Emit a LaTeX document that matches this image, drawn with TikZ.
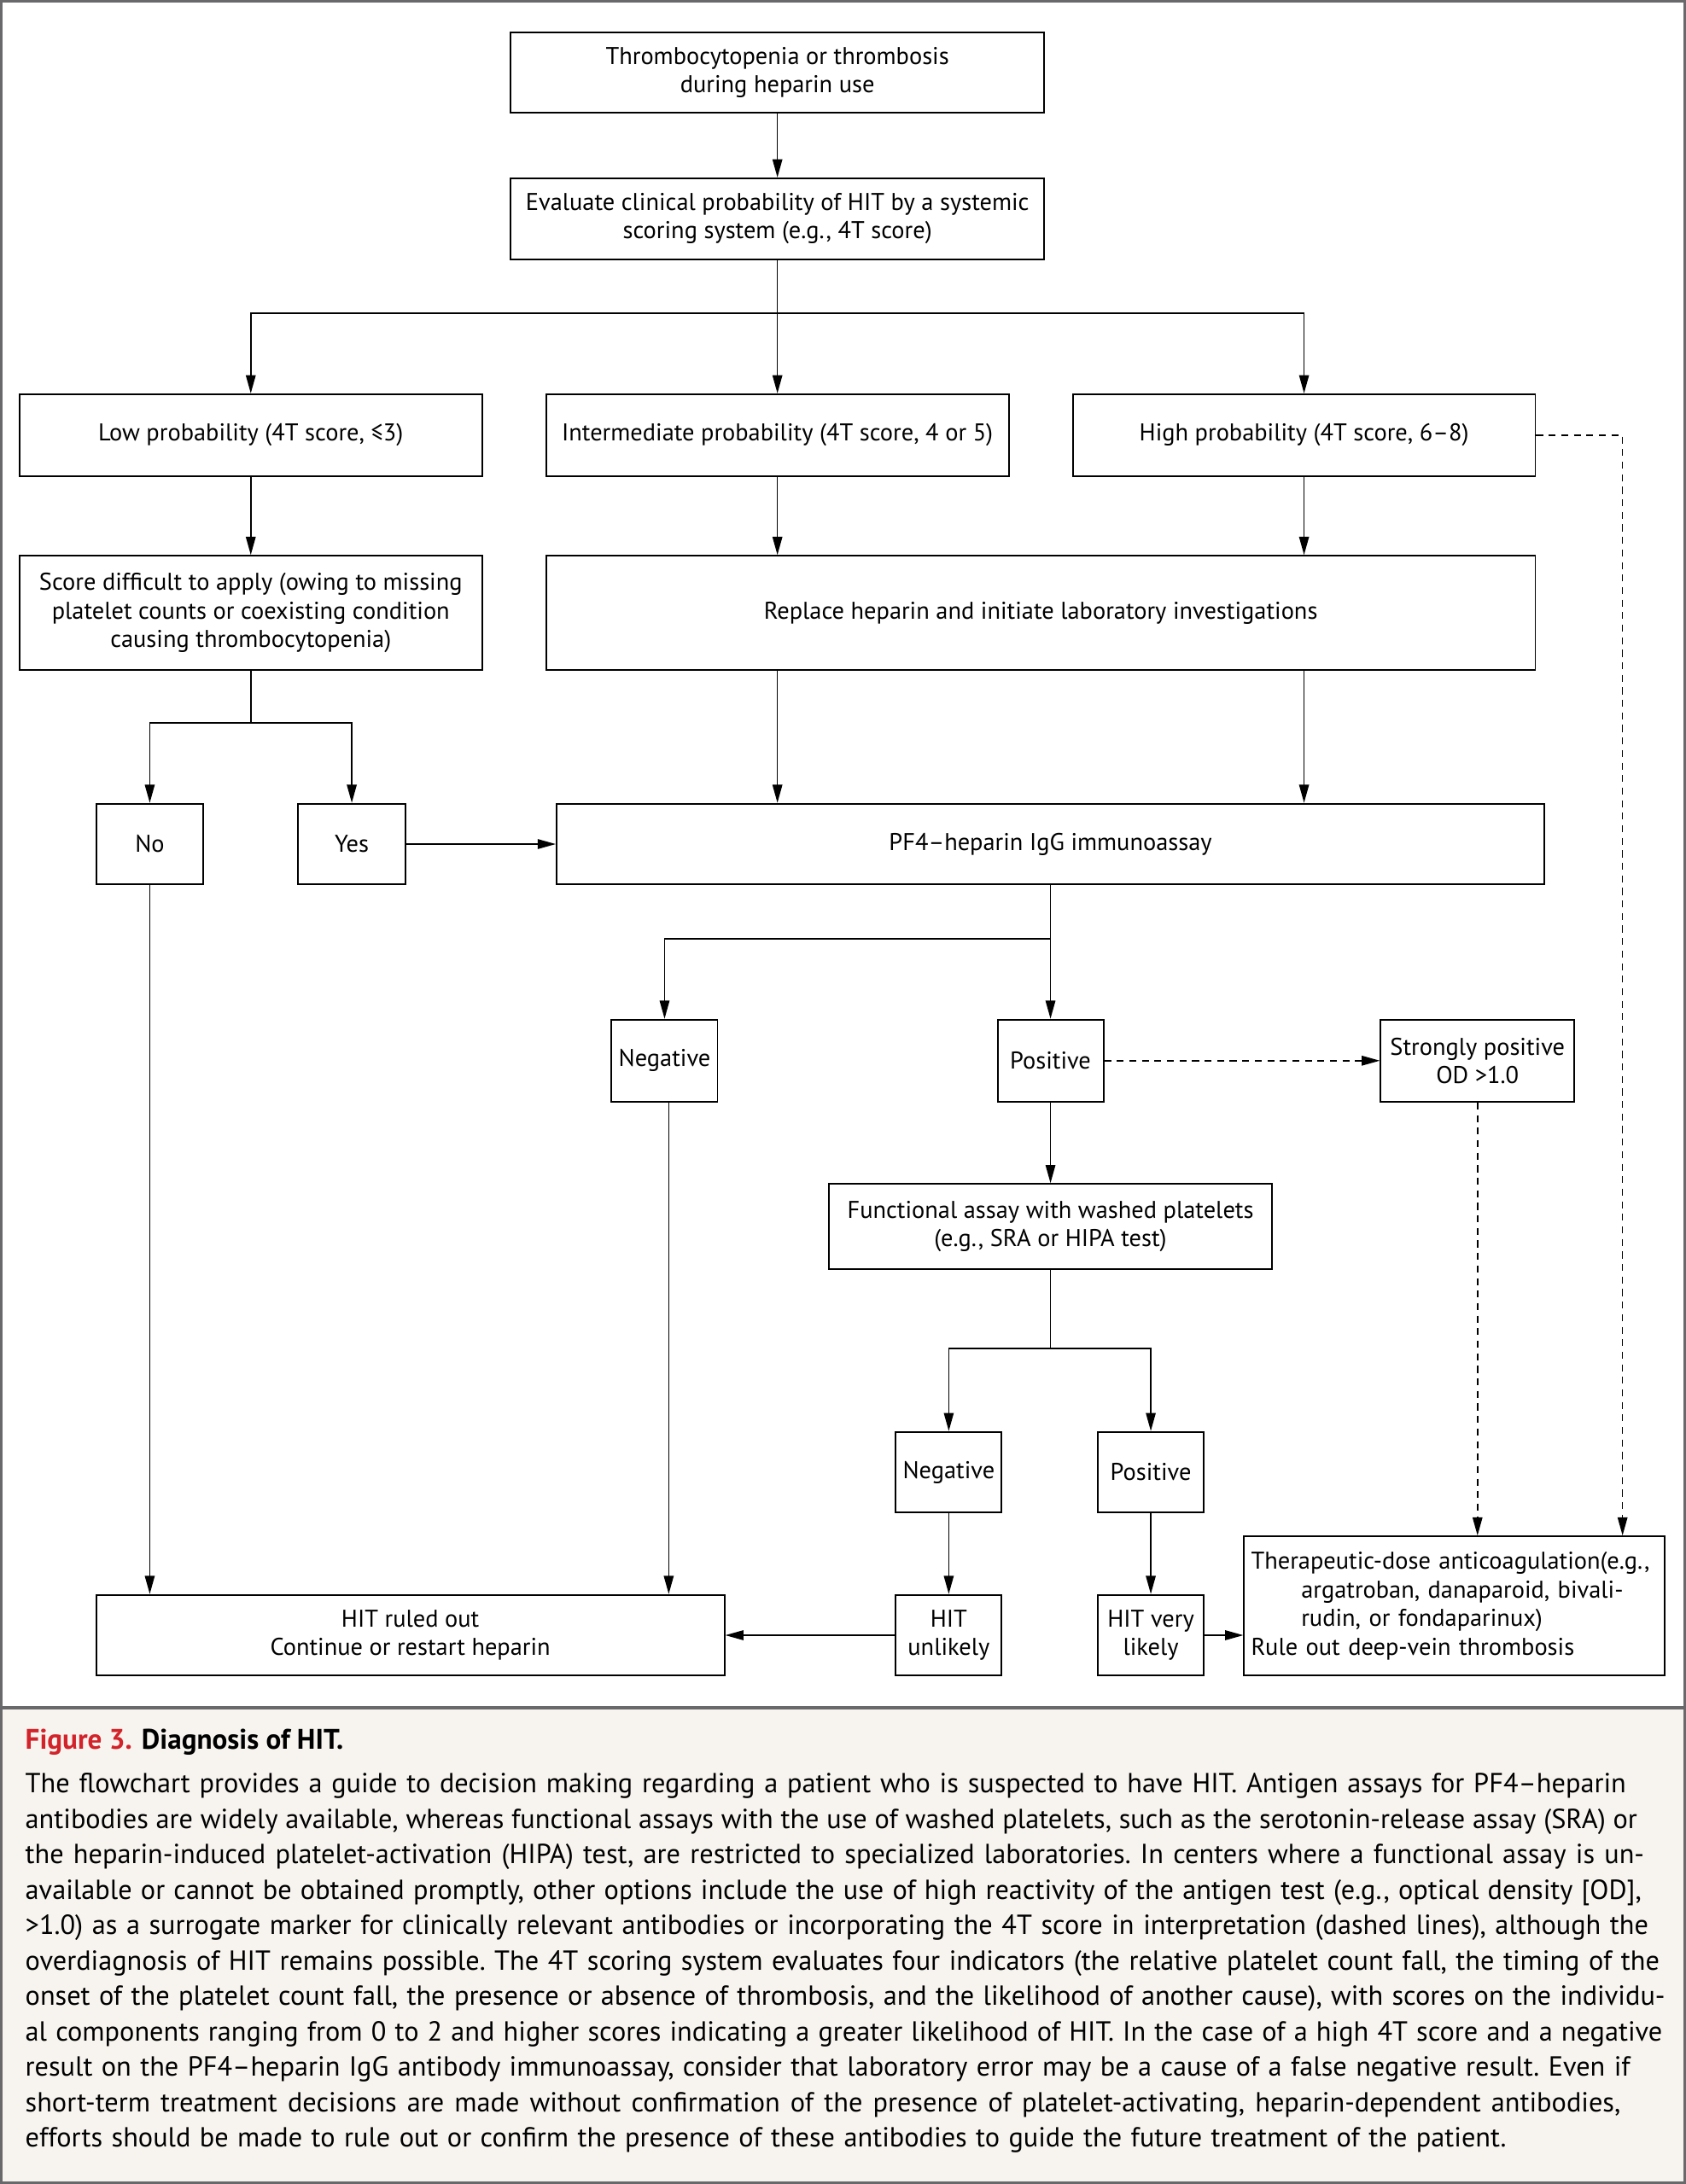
\documentclass[tikz,border=0pt]{standalone}
\usepackage{fontspec}
\setmainfont{PT Sans}
\usetikzlibrary{arrows.meta,calc}
\definecolor{nejmred}{RGB}{210,35,42}
\definecolor{capbg}{RGB}{247,244,239}
\definecolor{framegray}{RGB}{105,105,108}
\newcommand{\capline}[2]{\makebox[#1pt][s]{#2}}
\begin{document}
\begin{tikzpicture}[x=1pt,y=-1pt,
  box/.style={draw,line width=1.2pt,align=center,inner sep=2pt,
    font=\fontsize{17.4}{20.5}\selectfont},
  conn/.style={line width=0.9pt},
  arr/.style={conn,-{Triangle[length=13pt,width=7pt]}},
  dasharr/.style={arr,dash pattern=on 5pt off 4pt},
  capt/.style={anchor=base west,inner sep=0pt,font=\fontsize{19.8}{25}\selectfont\frenchspacing}]
\useasboundingbox (0,0) rectangle (1210,1568);
\fill[white] (0,0) rectangle (1210,1226);
\fill[capbg] (0,1226) rectangle (1210,1568);
\draw[framegray,line width=2pt] (1,1) rectangle (1209,1567);
\draw[framegray,line width=2.2pt] (0,1226) -- (1210,1226);

% nodes
\node[box,minimum width=383pt,minimum height=58pt] (top) at (558,52) {Thrombocytopenia or thrombosis\\during heparin use};
\node[box,minimum width=383pt,minimum height=58pt] (eval) at (558,157) {Evaluate clinical probability of HIT by a systemic\\scoring system (e.g., 4T score)};
\node[box,minimum width=332pt,minimum height=59pt] (low) at (180,312.5) {Low probability (4T score, ≤3)};
\node[box,minimum width=332pt,minimum height=59pt] (inter) at (558,312.5) {Intermediate probability (4T score, 4 or 5)};
\node[box,minimum width=332pt,minimum height=59pt] (high) at (936,312.5) {High probability (4T score, 6–8)};
\node[box,minimum width=332pt,minimum height=82pt] (score) at (180,440) {Score difficult to apply (owing to missing\\platelet counts or coexisting condition\\causing thrombocytopenia)};
\node[box,minimum width=710pt,minimum height=82pt] (replace) at (747,440) {Replace heparin and initiate laboratory investigations};
\node[box,minimum width=77pt,minimum height=58pt] (no) at (107.5,606) {No};
\node[box,minimum width=77pt,minimum height=58pt] (yes) at (252.5,606) {Yes};
\node[box,minimum width=709pt,minimum height=58pt] (pf4) at (754,606) {PF4–heparin IgG immunoassay};
\node[box,minimum width=76pt,minimum height=59pt] (neg1) at (477,761.5) {Negative};
\node[box,minimum width=76pt,minimum height=59pt] (pos1) at (754,761.5) {Positive};
\node[box,minimum width=139pt,minimum height=59pt] (strong) at (1060.5,761.5) {Strongly positive\\OD >1.0};
\node[box,minimum width=318pt,minimum height=61pt] (func) at (754,880.5) {Functional assay with washed platelets\\(e.g., SRA or HIPA test)};
\node[box,minimum width=76pt,minimum height=58pt] (neg2) at (681,1057) {Negative};
\node[box,minimum width=76pt,minimum height=58pt] (pos2) at (826,1057) {Positive};
\node[box,minimum width=451pt,minimum height=58pt] (ruled) at (294.5,1174) {HIT ruled out\\Continue or restart heparin};
\node[box,minimum width=76pt,minimum height=58pt] (unlikely) at (681,1174) {HIT\\unlikely};
\node[box,minimum width=76pt,minimum height=58pt] (vlikely) at (826,1174) {HIT very\\likely};
\node[box,minimum width=302pt,minimum height=100pt,text width=292pt,align=left] (thera) at (1044,1153)
  {Therapeutic-dose anticoagulation(e.g.,\\\hspace*{36pt}argatroban, danaparoid, bivali-\\\hspace*{36pt}rudin, or fondaparinux)\\Rule out deep-vein thrombosis};

% junctions
\coordinate (j1) at (558,225);
\coordinate (j2) at (180,519);
\coordinate (j3) at (754,674);
\coordinate (j4) at (754,968);
\coordinate (hd) at ($(thera.north east)+(-31,0)$);

% connectors
\draw[arr] (top.south) -- (eval.north);
\draw[conn] (eval.south) -- (j1);
\draw[arr] (j1) -| (low.north);
\draw[arr] (j1) -- (inter.north);
\draw[arr] (j1) -| (high.north);
\draw[arr] (low.south) -- (score.north);
\draw[arr] (inter.south) -- (inter.south |- replace.north);
\draw[arr] (high.south) -- (high.south |- replace.north);
\draw[conn] (score.south) -- (j2);
\draw[arr] (j2) -| (no.north);
\draw[arr] (j2) -| (yes.north);
\draw[arr] (inter.south |- replace.south) -- (inter.south |- pf4.north);
\draw[arr] (high.south |- replace.south) -- (high.south |- pf4.north);
\draw[arr] (yes.east) -- (pf4.west);
\draw[conn] (pf4.south) -- (j3);
\draw[arr] (j3) -| (neg1.north);
\draw[arr] (j3) -- (pos1.north);
\draw[dasharr] (pos1.east) -- (strong.west);
\draw[arr] (pos1.south) -- (func.north);
\draw[conn] (func.south) -- (j4);
\draw[arr] (j4) -| (neg2.north);
\draw[arr] (j4) -| (pos2.north);
\draw[arr] (neg2.south) -- (unlikely.north);
\draw[arr] (pos2.south) -- (vlikely.north);
\draw[arr] (unlikely.west) -- (ruled.east);
\draw[arr] (vlikely.east) -- (vlikely.east -| thera.west);
\draw[arr] (no.south) -- (no.south |- ruled.north);
\draw[arr] ([xshift=3pt]neg1.south) -- ([xshift=3pt]neg1.south |- ruled.north);
\draw[dasharr] (strong.south) -- (strong.south |- thera.north);
\draw[dasharr] (high.east) -| (hd);

% caption
\node[anchor=base west,inner sep=0pt,font=\fontsize{20.3}{24}\selectfont\bfseries] (title) at (18,1256)
  {\textcolor{nejmred}{Figure 3.} Diagnosis of HIT.};
\node[capt] (c1) at (18,1287) {\capline{1149}{The flowchart provides a guide to decision making regarding a patient who is suspected to have HIT. Antigen assays for PF4–heparin}};
\node[capt] (c2) at (18,1312.5) {\capline{1157}{antibodies are widely available, whereas functional assays with the use of washed platelets, such as the serotonin-release assay (SRA) or}};
\node[capt] (c3) at (18,1338) {\capline{1162}{the heparin-induced platelet-activation (HIPA) test, are restricted to specialized laboratories. In centers where a functional assay is un-}};
\node[capt] (c4) at (18,1363.4) {\capline{1160}{available or cannot be obtained promptly, other options include the use of high reactivity of the antigen test (e.g., optical density [OD],}};
\node[capt] (c5) at (18,1388.8) {\capline{1165}{>1.0) as a surrogate marker for clinically relevant antibodies or incorporating the 4T score in interpretation (dashed lines), although the}};
\node[capt] (c6) at (18,1414.3) {\capline{1173}{overdiagnosis of HIT remains possible. The 4T scoring system evaluates four indicators (the relative platelet count fall, the timing of the}};
\node[capt] (c7) at (18,1439.8) {\capline{1177}{onset of the platelet count fall, the presence or absence of thrombosis, and the likelihood of another cause), with scores on the individu-}};
\node[capt] (c8) at (18,1465.2) {\capline{1175}{al components ranging from 0 to 2 and higher scores indicating a greater likelihood of HIT. In the case of a high 4T score and a negative}};
\node[capt] (c9) at (18,1490.7) {\capline{1152}{result on the PF4–heparin IgG antibody immunoassay, consider that laboratory error may be a cause of a false negative result. Even if}};
\node[capt] (c10) at (18,1516.1) {\capline{1145}{short-term treatment decisions are made without confirmation of the presence of platelet-activating, heparin-dependent antibodies,}};
\node[capt] (c11) at (18,1541.6) {\capline{1063}{efforts should be made to rule out or confirm the presence of these antibodies to guide the future treatment of the patient.}};
\end{tikzpicture}
\end{document}
